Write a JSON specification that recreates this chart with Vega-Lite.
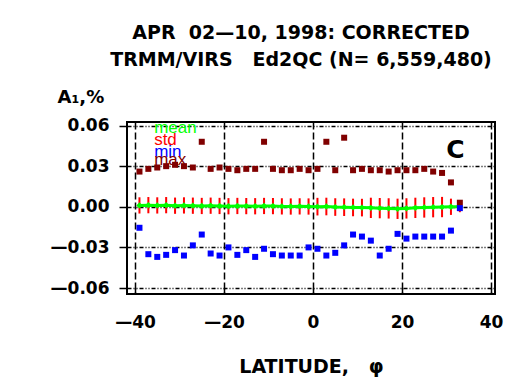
{
  "$schema": "https://vega.github.io/schema/vega-lite/v6.json",
  "width": 368,
  "height": 172,
  "autosize": "none",
  "padding": {"left": 127, "top": 122, "right": 10, "bottom": 86},
  "background": "white",
  "config": {
    "font": "DejaVu Sans",
    "view": {"stroke": "black", "strokeWidth": 2},
    "axis": {"labelFont": "DejaVu Sans", "titleFont": "DejaVu Sans"}
  },
  "title": {
    "text": ["APR\u00a0\u00a002\u201410, 1998:\u00a0CORRECTED", "TRMM/VIRS\u00a0\u00a0\u00a0Ed2QC\u00a0(N=\u00a06,559,480)"],
    "font": "DejaVu Sans",
    "fontSize": 19,
    "fontWeight": "bold",
    "lineHeight": 27,
    "anchor": "middle",
    "dx": -10,
    "offset": 18,
    "color": "black"
  },
  "data": {
    "values": [
      {"lat": -39, "mean": 0.0010, "lo": -0.0050, "hi": 0.0070, "min": -0.0155, "max": 0.026},
      {"lat": -37, "mean": 0.0012, "lo": -0.0048, "hi": 0.0072, "min": -0.035, "max": 0.028},
      {"lat": -35, "mean": 0.0010, "lo": -0.0050, "hi": 0.0070, "min": -0.037, "max": 0.029},
      {"lat": -33, "mean": 0.0012, "lo": -0.0048, "hi": 0.0072, "min": -0.0355, "max": 0.030},
      {"lat": -31, "mean": 0.0008, "lo": -0.0052, "hi": 0.0068, "min": -0.032, "max": 0.031},
      {"lat": -29, "mean": 0.0010, "lo": -0.0050, "hi": 0.0070, "min": -0.036, "max": 0.030},
      {"lat": -27, "mean": 0.0008, "lo": -0.0052, "hi": 0.0068, "min": -0.0285, "max": 0.029},
      {"lat": -25, "mean": 0.0006, "lo": -0.0054, "hi": 0.0066, "min": -0.0205, "max": 0.048},
      {"lat": -23, "mean": 0.0008, "lo": -0.0052, "hi": 0.0068, "min": -0.0345, "max": 0.028},
      {"lat": -21, "mean": 0.0006, "lo": -0.0054, "hi": 0.0066, "min": -0.036, "max": 0.029},
      {"lat": -19, "mean": 0.0004, "lo": -0.0056, "hi": 0.0064, "min": -0.030, "max": 0.028},
      {"lat": -17, "mean": 0.0006, "lo": -0.0054, "hi": 0.0066, "min": -0.0355, "max": 0.027},
      {"lat": -15, "mean": 0.0005, "lo": -0.0055, "hi": 0.0065, "min": -0.032, "max": 0.028},
      {"lat": -13, "mean": 0.0004, "lo": -0.0056, "hi": 0.0064, "min": -0.037, "max": 0.028},
      {"lat": -11, "mean": 0.0006, "lo": -0.0054, "hi": 0.0066, "min": -0.031, "max": 0.048},
      {"lat": -9, "mean": 0.0005, "lo": -0.0055, "hi": 0.0065, "min": -0.035, "max": 0.028},
      {"lat": -7, "mean": 0.0003, "lo": -0.0057, "hi": 0.0063, "min": -0.036, "max": 0.027},
      {"lat": -5, "mean": 0.0002, "lo": -0.0058, "hi": 0.0062, "min": -0.036, "max": 0.027},
      {"lat": -3, "mean": 0.0003, "lo": -0.0057, "hi": 0.0063, "min": -0.036, "max": 0.028},
      {"lat": -1, "mean": 0.0002, "lo": -0.0058, "hi": 0.0062, "min": -0.030, "max": 0.027},
      {"lat": 1, "mean": 0.0001, "lo": -0.0064, "hi": 0.0066, "min": -0.031, "max": 0.028},
      {"lat": 3, "mean": 0.0002, "lo": -0.0063, "hi": 0.0067, "min": -0.036, "max": 0.048},
      {"lat": 5, "mean": -0.0002, "lo": -0.0067, "hi": 0.0063, "min": -0.034, "max": 0.027},
      {"lat": 7, "mean": -0.0003, "lo": -0.0068, "hi": 0.0062, "min": -0.0285, "max": 0.051},
      {"lat": 9, "mean": -0.0005, "lo": -0.0070, "hi": 0.0060, "min": -0.0205, "max": 0.027},
      {"lat": 11, "mean": -0.0006, "lo": -0.0071, "hi": 0.0059, "min": -0.022, "max": 0.028},
      {"lat": 13, "mean": -0.0008, "lo": -0.0083, "hi": 0.0067, "min": -0.025, "max": 0.027},
      {"lat": 15, "mean": -0.0010, "lo": -0.0085, "hi": 0.0065, "min": -0.036, "max": 0.027},
      {"lat": 17, "mean": -0.0012, "lo": -0.0087, "hi": 0.0063, "min": -0.031, "max": 0.026},
      {"lat": 19, "mean": -0.0015, "lo": -0.0090, "hi": 0.0060, "min": -0.020, "max": 0.027},
      {"lat": 21, "mean": -0.0012, "lo": -0.0087, "hi": 0.0063, "min": -0.0235, "max": 0.027},
      {"lat": 23, "mean": -0.0008, "lo": -0.0083, "hi": 0.0067, "min": -0.022, "max": 0.027},
      {"lat": 25, "mean": -0.0005, "lo": -0.0080, "hi": 0.0070, "min": -0.022, "max": 0.028},
      {"lat": 27, "mean": -0.0003, "lo": -0.0078, "hi": 0.0072, "min": -0.022, "max": 0.026},
      {"lat": 29, "mean": -0.0002, "lo": -0.0077, "hi": 0.0073, "min": -0.022, "max": 0.025},
      {"lat": 31, "mean": 0.0000, "lo": -0.0060, "hi": 0.0060, "min": -0.0176, "max": 0.018},
      {"lat": 33, "mean": 0.0000, "lo": -0.0040, "hi": 0.0040, "min": -0.001, "max": 0.003}
    ]
  },
  "encoding": {
    "x": {
      "field": "lat",
      "type": "quantitative",
      "scale": {"domain": [-41.8, 40.9], "nice": false, "zero": false},
      "axis": {
        "values": [-40, -20, 0, 20, 40],
        "title": "LATITUDE,\u00a0\u00a0\u00a0\u03c6",
        "titleFontSize": 19,
        "titleFontWeight": "bold",
        "titleColor": "black",
        "titlePadding": 27,
        "labelFontSize": 17,
        "labelFontWeight": "bold",
        "labelColor": "black",
        "labelPadding": 26,
        "labelExpr": "(datum.value < 0 ? '\u2014' : '') + format(abs(datum.value), 'd')",
        "tickSize": -6,
        "tickColor": "black",
        "tickWidth": 1.5,
        "domain": false,
        "grid": true,
        "gridColor": "black",
        "gridWidth": 1.5,
        "gridDash": [7, 3],
        "gridOpacity": 1
      }
    }
  },
  "layer": [
    {
      "mark": {"type": "rule", "color": "#ff0000", "strokeWidth": 2},
      "encoding": {
        "y": {
          "field": "lo",
          "type": "quantitative",
          "scale": {"domain": [-0.0644, 0.0626], "nice": false, "zero": false},
          "axis": {
            "values": [-0.06, -0.03, 0, 0.03, 0.06],
            "title": "A\u2081,%",
            "titleAngle": 0,
            "titleAlign": "left",
            "titleBaseline": "alphabetic",
            "titleX": -70,
            "titleY": -20,
            "titleFontSize": 18,
            "titleFontWeight": "bold",
            "titleColor": "black",
            "labelFontSize": 17,
            "labelFontWeight": "bold",
            "labelColor": "black",
            "labelPadding": 10,
            "labelExpr": "(datum.value < 0 ? '\u2014' : '') + format(abs(datum.value), '.2f')",
            "tickSize": 8,
            "tickColor": "black",
            "tickWidth": 1.5,
            "domain": false,
            "grid": true,
            "gridColor": "black",
            "gridWidth": 1.5,
            "gridDash": [4, 2, 1, 2, 1, 2],
            "gridOpacity": 1
          }
        },
        "y2": {"field": "hi"}
      }
    },
    {
      "mark": {"type": "line", "color": "#00ff00", "strokeWidth": 3},
      "encoding": {"y": {"field": "mean", "type": "quantitative"}}
    },
    {
      "mark": {"type": "point", "shape": "diamond", "filled": true, "color": "#00ff00", "size": 40, "opacity": 1},
      "encoding": {"y": {"field": "mean", "type": "quantitative"}}
    },
    {
      "mark": {"type": "square", "color": "#800000", "size": 36, "opacity": 1},
      "encoding": {"y": {"field": "max", "type": "quantitative"}}
    },
    {
      "mark": {"type": "square", "color": "#0000ff", "size": 36, "opacity": 1},
      "encoding": {"y": {"field": "min", "type": "quantitative"}}
    },
    {
      "transform": [{"filter": "datum.lat == -39"}],
      "mark": {"type": "text", "text": "mean", "color": "#00ff00", "font": "Liberation Sans", "fontSize": 17, "align": "left", "baseline": "alphabetic"},
      "encoding": {"x": {"datum": -35.7}, "y": {"datum": 0.0545}}
    },
    {
      "transform": [{"filter": "datum.lat == -39"}],
      "mark": {"type": "text", "text": "std", "color": "#ff0000", "font": "Liberation Sans", "fontSize": 17, "align": "left", "baseline": "alphabetic"},
      "encoding": {"x": {"datum": -35.7}, "y": {"datum": 0.0457}}
    },
    {
      "transform": [{"filter": "datum.lat == -39"}],
      "mark": {"type": "text", "text": "min", "color": "#0000ff", "font": "Liberation Sans", "fontSize": 17, "align": "left", "baseline": "alphabetic"},
      "encoding": {"x": {"datum": -35.7}, "y": {"datum": 0.0369}}
    },
    {
      "transform": [{"filter": "datum.lat == -39"}],
      "mark": {"type": "text", "text": "max", "color": "#800000", "font": "Liberation Sans", "fontSize": 17, "align": "left", "baseline": "alphabetic"},
      "encoding": {"x": {"datum": -35.7}, "y": {"datum": 0.0310}}
    },
    {
      "transform": [{"filter": "datum.lat == -39"}],
      "mark": {"type": "text", "text": "C", "color": "black", "font": "DejaVu Sans", "fontSize": 25, "fontWeight": "bold", "align": "center", "baseline": "middle"},
      "encoding": {"x": {"datum": 32}, "y": {"datum": 0.042}}
    }
  ]
}
